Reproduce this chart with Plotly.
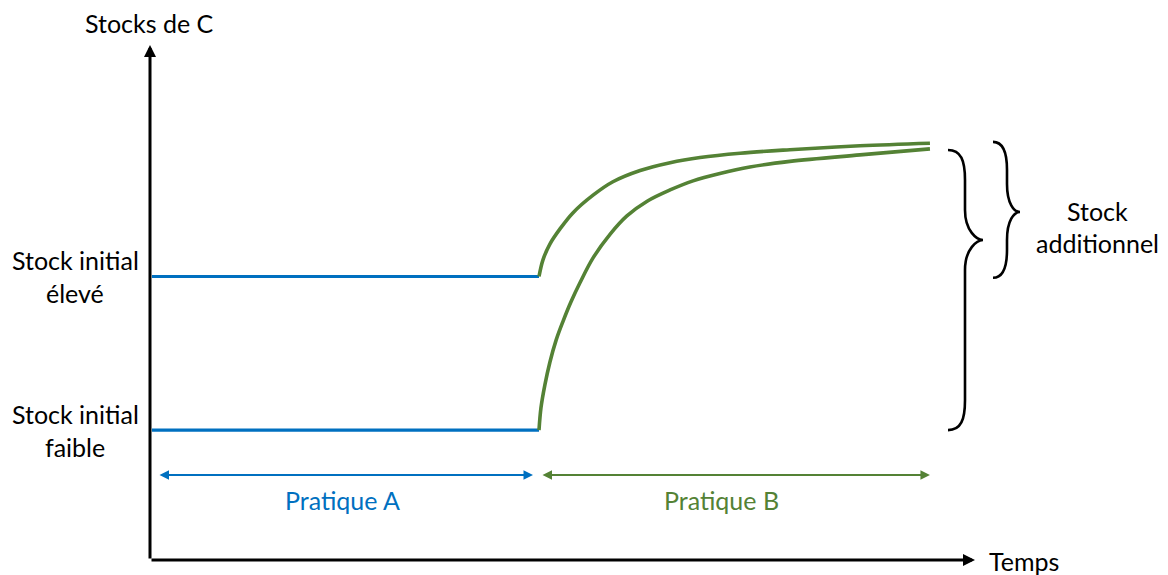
import plotly.graph_objects as go

# ---------------- data (conceptual units: time t, carbon stock S) ----------------
t_switch = 10.0          # change from Pratique A to Pratique B
t_end = 20.05
stock_high = 6.55        # "Stock initial élevé"
stock_low = 3.0          # "Stock initial faible"

practice_A_time = [0.05, t_switch]

upper_B_time = [10.0, 10.10, 10.28, 10.54, 10.87, 11.39, 11.90, 12.60, 13.37, 14.14, 15.17, 16.45, 18.25, 20.05]
upper_B_stock = [6.55, 6.93, 7.30, 7.65, 8.02, 8.43, 8.74, 9.00, 9.18, 9.30, 9.40, 9.48, 9.57, 9.63]

lower_B_time = [10.0, 10.05, 10.15, 10.28, 10.44, 10.62, 10.82, 11.05, 11.39, 11.83, 12.26, 12.78,
                13.37, 13.96, 14.65, 15.42, 16.45, 18.25, 20.05]
lower_B_stock = [3.0, 3.51, 4.04, 4.57, 5.08, 5.52, 5.96, 6.40, 6.98, 7.53, 7.95, 8.29,
                 8.55, 8.76, 8.93, 9.08, 9.21, 9.36, 9.50]

labels_high = ["Stock initial", "élevé"]
labels_low = ["Stock initial", "faible"]
axis_titles = ["Temps", "Stocks de C"]
practice_labels = ["Pratique A", "Pratique B"]
brace_label = ["Stock", "additionnel"]

# ---------------- layout helpers (page-pixel scale of the drawing) ----------------
W, H = 1168, 575
PAGE_OFF = 8                   # default body margin of the html page
X0_PX, PX_T = 150.0, 38.9      # t = 0 at x=150 px (page)
Y0_PX, PX_S = 560.0, 43.28     # S = 0 at y=560 px (page)


def px_x(px):
    return (px - X0_PX) / PX_T


def px_y(py):
    return (Y0_PX - py) / PX_S


BLUE = "#0070C0"
GREEN = "#548235"
FONT = "Lato"
FS = 25

fig = go.Figure()

# Pratique A (horizontal lines)
for s in (stock_high, stock_low):
    fig.add_trace(go.Scatter(x=practice_A_time, y=[s, s], mode="lines",
                             line=dict(color=BLUE, width=3.2), hoverinfo="skip"))

# Pratique B (rising curves)
for xs, ys in ((upper_B_time, upper_B_stock), (lower_B_time, lower_B_stock)):
    fig.add_trace(go.Scatter(x=xs, y=ys, mode="lines",
                             line=dict(color=GREEN, width=3.6, shape="spline", smoothing=1.0),
                             hoverinfo="skip"))

annotations = []

# axes with arrow heads
x_tip = px_x(975)
y_tip = px_y(45)
annotations.append(dict(x=x_tip, y=0, ax=0, ay=0, xref="x", yref="y", axref="x", ayref="y",
                        text="", showarrow=True, arrowhead=2, arrowsize=0.8, arrowwidth=3,
                        arrowcolor="black", standoff=0, startstandoff=0))
annotations.append(dict(x=0, y=y_tip, ax=0, ay=0, xref="x", yref="y", axref="x", ayref="y",
                        text="", showarrow=True, arrowhead=2, arrowsize=0.8, arrowwidth=3,
                        arrowcolor="black", standoff=0, startstandoff=0))

# practice spans (double arrows)
y_span = px_y(475)
for (xa, xb), col in (((px_x(158), px_x(533)), BLUE), ((px_x(541), t_end), GREEN)):
    annotations.append(dict(x=xb, y=y_span, ax=xa, ay=y_span, xref="x", yref="y",
                            axref="x", ayref="y", text="", showarrow=True,
                            arrowhead=2, startarrowhead=2, arrowside="end+start",
                            arrowsize=0.95, startarrowsize=0.95, arrowwidth=2,
                            arrowcolor=col, standoff=0, startstandoff=0))


def label(text, xpx, ypx, color="black"):
    annotations.append(dict(x=px_x(xpx), y=px_y(ypx), xref="x", yref="y", text=text,
                            showarrow=False, xanchor="center", yanchor="middle",
                            font=dict(family=FONT, size=FS, color=color)))


# practice labels
label(practice_labels[0], 342, 500, BLUE)
label(practice_labels[1], 721, 500, GREEN)

# axis titles
label(axis_titles[0], 1024, 561)
label(axis_titles[1], 149, 23)

# initial stock labels (two lines each)
label(labels_high[0], 75, 260)
label(labels_high[1], 75, 293)
label(labels_low[0], 75, 414)
label(labels_low[1], 75, 447)

# brace label
label(brace_label[0], 1097, 211)
label(brace_label[1], 1097, 243)


def brace_path(xl_px, xm_px, xt_px, top_s, bot_s, tip_px, r_px):
    """Right-pointing curly brace, built in data units."""
    xl, xm, xt = px_x(xl_px), px_x(xm_px), px_x(xt_px)
    top_px = Y0_PX - top_s * PX_S
    bot_px = Y0_PX - bot_s * PX_S
    Y = px_y
    p = []
    p.append(f"M {xl},{Y(top_px)}")
    p.append(f"C {px_x(xm_px - 4)},{Y(top_px)} {xm},{Y(top_px + r_px * 0.35)} {xm},{Y(top_px + r_px)}")
    p.append(f"L {xm},{Y(tip_px - r_px)}")
    p.append(f"C {xm},{Y(tip_px - r_px * 0.3)} {px_x(xt_px - 6)},{Y(tip_px)} {xt},{Y(tip_px)}")
    p.append(f"C {px_x(xt_px - 6)},{Y(tip_px)} {xm},{Y(tip_px + r_px * 0.3)} {xm},{Y(tip_px + r_px)}")
    p.append(f"L {xm},{Y(bot_px - r_px)}")
    p.append(f"C {xm},{Y(bot_px - r_px * 0.35)} {px_x(xm_px - 4)},{Y(bot_px)} {xl},{Y(bot_px)}")
    return " ".join(p)


shapes = [
    dict(type="path", xref="x", yref="y",
         path=brace_path(948, 965, 983, px_y(150), stock_low, 240, 30),
         line=dict(color="black", width=2.6)),
    dict(type="path", xref="x", yref="y",
         path=brace_path(993, 1007, 1020, upper_B_stock[-1] + 0.03, stock_high - 0.03, 212, 28),
         line=dict(color="black", width=2.6)),
]

fig.update_layout(
    width=W, height=H,
    margin=dict(l=0, r=0, t=0, b=0),
    paper_bgcolor="white", plot_bgcolor="white",
    showlegend=False,
    xaxis=dict(range=[px_x(PAGE_OFF), px_x(PAGE_OFF + W)], visible=False, fixedrange=True),
    yaxis=dict(range=[px_y(PAGE_OFF + H), px_y(PAGE_OFF)], visible=False, fixedrange=True),
    annotations=annotations,
    shapes=shapes,
)

fig.write_html("out.html")
